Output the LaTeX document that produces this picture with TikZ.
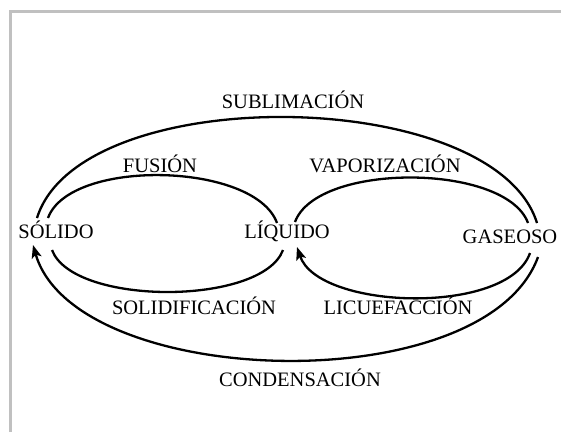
\documentclass[tikz,border=0pt]{standalone}
\usepackage{fontspec}
\setmainfont{Liberation Serif}
\usetikzlibrary{arrows.meta}
\definecolor{framegray}{RGB}{192,192,192}
\begin{document}
\begin{tikzpicture}[x=1pt,y=-1pt,
  state/.style={font=\fontsize{20.5}{24}\selectfont, inner sep=0pt, anchor=base},
  lab/.style={font=\fontsize{20.5}{24}\selectfont, inner sep=0pt, anchor=base},
  arc/.style={line width=2.3pt},
  tip/.style={-{Stealth[length=13pt,width=10pt,inset=3pt]}}]
\useasboundingbox (0,0) rectangle (561,432);
\draw[line width=3pt, framegray] (10,432) -- (10,11) -- (561,11);

% states
\node[state] (sol) at (56,238) {SÓLIDO};
\node[state] (liq) at (287,238) {LÍQUIDO};
\node[state] (gas) at (510,243) {GASEOSO};

% labels
\node[lab] (sub)  at (293,108) {SUBLIMACIÓN};
\node[lab] (fus)  at (160,172) {FUSIÓN};
\node[lab] (vap)  at (385,172) {VAPORIZACIÓN};
\node[lab] (soli) at (194,314) {SOLIDIFICACIÓN};
\node[lab] (lic)  at (398,314) {LICUEFACCIÓN};
\node[lab] (cond) at (300,386) {CONDENSACIÓN};

% connector end points around the state nodes
\coordinate (sOutTop) at (37,218);
\coordinate (sInTop)  at (48,218);
\coordinate (sInBot)  at (52,250);
\coordinate (sOutBot) at (33,245);
\coordinate (lInTopL) at (277,223);
\coordinate (lInTopR) at (295,222);
\coordinate (lInBotL) at (283,250);
\coordinate (lInBotR) at (297,247);
\coordinate (gInTop)  at (528,223);
\coordinate (gOutTop) at (537,223);
\coordinate (gInBot)  at (530,253);
\coordinate (gOutBot) at (538,257);

% curves
\draw[arc] (sOutTop) .. controls (80,80) and (494,85) .. (gOutTop);
\draw[arc] (sInTop) .. controls (70,158) and (255,162) .. (lInTopL);
\draw[arc] (lInTopR) .. controls (317,162) and (506,163) .. (gInTop);
\draw[arc] (lInBotL) .. controls (262,306) and (73,306) .. (sInBot);
\draw[arc,tip] (gInBot) .. controls (508,316) and (318,310) .. (lInBotR);
\draw[arc,tip] (gOutBot) .. controls (485,402) and (75,390) .. (sOutBot);
\end{tikzpicture}
\end{document}
